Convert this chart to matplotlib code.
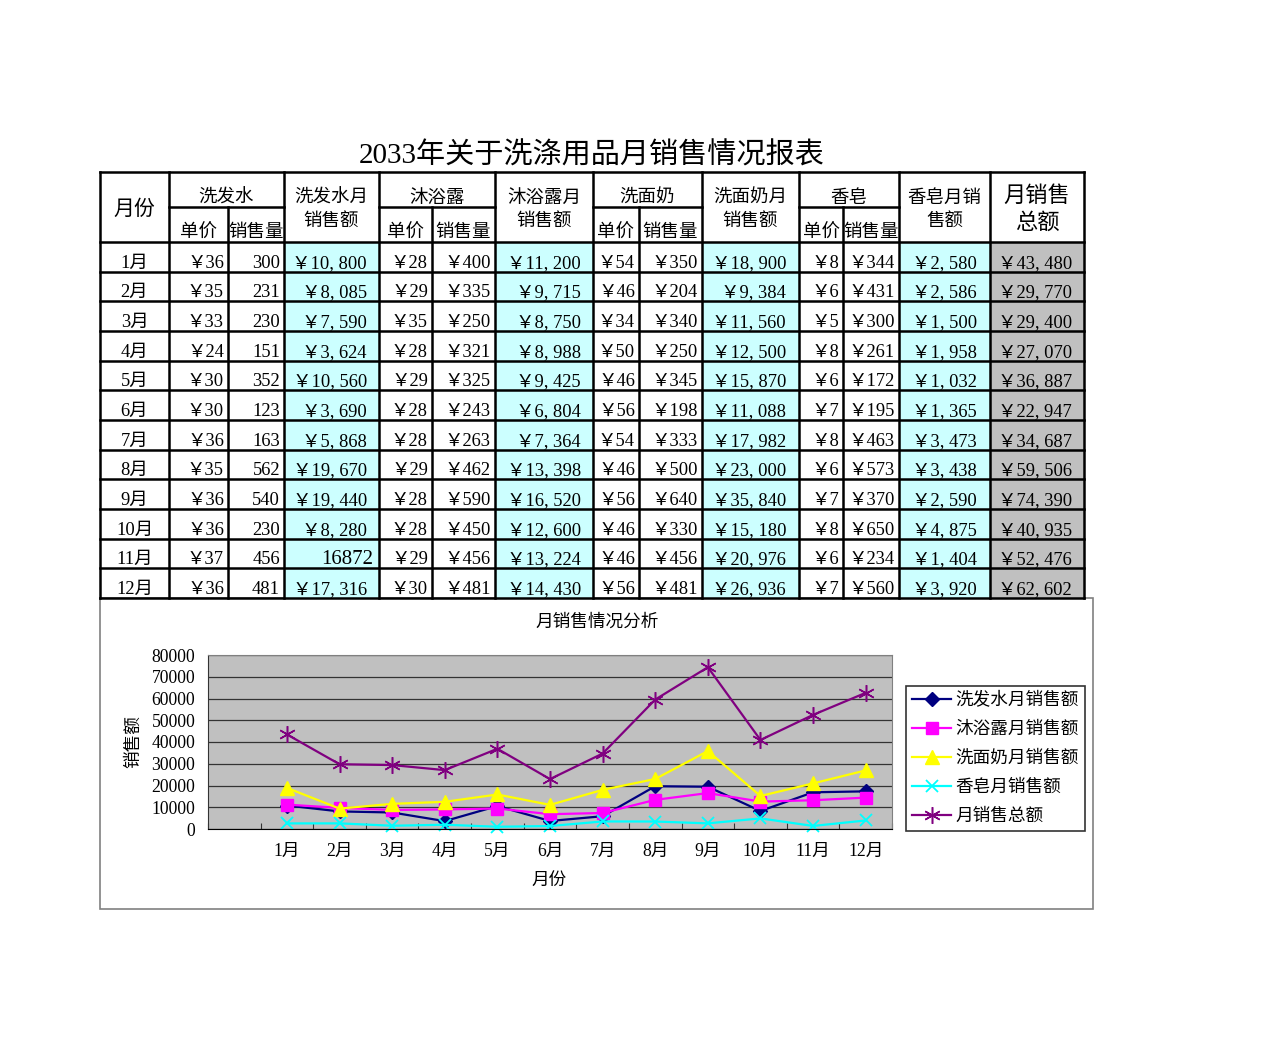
import numpy as np
import matplotlib
matplotlib.use("Agg")
import matplotlib.pyplot as plt
from matplotlib.patches import Rectangle

plt.rcParams['font.family'] = ['Liberation Serif', 'Noto Sans CJK SC']

# ---- data ----
months = ['1月', '2月', '3月', '4月', '5月', '6月', '7月', '8月', '9月', '10月', '11月', '12月']
shampoo_price = [36, 35, 33, 24, 30, 30, 36, 35, 36, 36, 37, 36]
shampoo_qty = [300, 231, 230, 151, 352, 123, 163, 562, 540, 230, 456, 481]
shampoo_sales = [10800, 8085, 7590, 3624, 10560, 3690, 5868, 19670, 19440, 8280, 16872, 17316]
gel_price = [28, 29, 35, 28, 29, 28, 28, 29, 28, 28, 29, 30]
gel_qty = [400, 335, 250, 321, 325, 243, 263, 462, 590, 450, 456, 481]
gel_sales = [11200, 9715, 8750, 8988, 9425, 6804, 7364, 13398, 16520, 12600, 13224, 14430]
cleanser_price = [54, 46, 34, 50, 46, 56, 54, 46, 56, 46, 46, 56]
cleanser_qty = [350, 204, 340, 250, 345, 198, 333, 500, 640, 330, 456, 481]
cleanser_sales = [18900, 9384, 11560, 12500, 15870, 11088, 17982, 23000, 35840, 15180, 20976, 26936]
soap_price = [8, 6, 5, 8, 6, 7, 8, 6, 7, 8, 6, 7]
soap_qty = [344, 431, 300, 261, 172, 195, 463, 573, 370, 650, 234, 560]
soap_sales = [2580, 2586, 1500, 1958, 1032, 1365, 3473, 3438, 2590, 4875, 1404, 3920]
total_sales = [43480, 29770, 29400, 27070, 36887, 22947, 34687, 59506, 74390, 40935, 52476, 62602]

title = '2033年关于洗涤用品月销售情况报表'
chart_title = '月销售情况分析'
series_names = ['洗发水月销售额', '沐浴露月销售额', '洗面奶月销售额', '香皂月销售额', '月销售总额']

W, H = 1280, 1058
fig = plt.figure(figsize=(W / 100, H / 100), dpi=100)
bg = fig.add_axes([0, 0, 1, 1])
bg.set_xlim(0, W)
bg.set_ylim(H, 0)
bg.axis('off')

FS = 13.3
CY = '#CCFFFF'
GR = '#C0C0C0'


def yen(v):
    return '￥' + format(v, ',').replace(',', ', ')


# ---- table geometry ----
xs = [100, 169, 228, 284, 379, 432, 495, 593, 639, 702, 799, 843, 899, 990, 1084]
top, mid, hb, bottom = 172, 207, 242, 598
rh = (bottom - hb) / 12
rows_y = [hb + i * rh for i in range(13)]

bg.text(592, 156, title, fontsize=21, ha='center', va='center')

# chart frame (behind table bottom line)
bg.add_patch(Rectangle((100, 598), 993, 311, facecolor='white', edgecolor='#808080', lw=1.2, zorder=0))

# fills
for c, col in [(3, CY), (6, CY), (9, CY), (12, CY), (13, GR)]:
    bg.add_patch(Rectangle((xs[c], hb), xs[c + 1] - xs[c], bottom - hb, facecolor=col, edgecolor='none', zorder=1))

lk = dict(color='black', lw=1.8, zorder=3, solid_capstyle='projecting')
for y in [top, hb] + rows_y[1:]:
    bg.plot([xs[0], xs[-1]], [y, y], **lk)
for g in [(1, 3), (4, 6), (7, 9), (10, 12)]:
    bg.plot([xs[g[0]], xs[g[1]]], [mid, mid], **lk)
for i, x in enumerate(xs):
    y0 = mid if i in (2, 5, 8, 11) else top
    bg.plot([x, x], [y0, bottom], **lk)

# header text
def ctext(x0, x1, y, s, fs=FS):
    bg.text((x0 + x1) / 2, y, s, fontsize=fs, ha='center', va='center', zorder=4)

ctext(xs[0], xs[1], 210, '月份', 15)
for i, name in zip([1, 4, 7, 10], ['洗发水', '沐浴露', '洗面奶', '香皂']):
    ctext(xs[i], xs[i + 2], 198, name)
    ctext(xs[i], xs[i + 1], 233, '单价')
    ctext(xs[i + 1], xs[i + 2], 233, '销售量')
for i, (a, b) in zip([3, 6, 9, 12], [('洗发水月', '销售额'), ('沐浴露月', '销售额'),
                                    ('洗面奶月', '销售额'), ('香皂月销', '售额')]):
    ctext(xs[i], xs[i + 1], 198, a)
    ctext(xs[i], xs[i + 1], 221, b)
ctext(xs[13], xs[14], 197, '月销售', 16)
ctext(xs[13], xs[14], 223, '总额', 16)

# body text
def rtext(col, r, s, pad, fs=FS):
    bg.text(xs[col + 1] - pad, rows_y[r + 1] - 4, s, fontsize=fs, ha='right', va='baseline', zorder=4)

for r in range(12):
    bg.text((xs[0] + xs[1]) / 2, rows_y[r + 1] - 4, months[r], fontsize=FS, ha='center', va='baseline', zorder=4)
    rtext(1, r, yen(shampoo_price[r]), 4)
    rtext(2, r, str(shampoo_qty[r]), 4)
    if r == 10:
        rtext(3, r, str(shampoo_sales[r]), 6, 15)
    else:
        rtext(3, r, yen(shampoo_sales[r]), 12)
    rtext(4, r, yen(gel_price[r]), 4)
    rtext(5, r, yen(gel_qty[r]), 4)
    rtext(6, r, yen(gel_sales[r]), 12)
    rtext(7, r, yen(cleanser_price[r]), 4)
    rtext(8, r, yen(cleanser_qty[r]), 4)
    rtext(9, r, yen(cleanser_sales[r]), 13)
    rtext(10, r, yen(soap_price[r]), 4)
    rtext(11, r, yen(soap_qty[r]), 4)
    rtext(12, r, yen(soap_sales[r]), 13)
    rtext(13, r, yen(total_sales[r]), 12)

# ---- chart ----
px0, px1, py0, py1 = 208, 892, 655, 829
ax = fig.add_axes([px0 / W, 1 - py1 / H, (px1 - px0) / W, (py1 - py0) / H])
ax.set_facecolor(GR)
x = np.arange(1, 13)
styles = [
    dict(color='#000080', marker='D', ms=7),
    dict(color='#FF00FF', marker='s', ms=9),
    dict(color='#FFFF00', marker='^', ms=10),
    dict(color='#00FFFF', marker='x', ms=8, mew=1.3),
    dict(color='#800080', marker=(6, 2, 0), ms=12, mew=1.1),
]
for vals, name, st in zip([shampoo_sales, gel_sales, cleanser_sales, soap_sales, total_sales], series_names, styles):
    ax.plot(x, vals, lw=1.6, label=name, clip_on=False, **st)

ax.set_xlim(-0.5, 12.5)
ax.set_ylim(0, 80000)
ax.set_yticks(range(0, 80001, 10000))
ax.yaxis.grid(True, color='#333333', lw=0.9)
ax.set_axisbelow(True)
ax.tick_params(axis='y', length=0, pad=9, labelsize=12.7)
ax.set_xticks(np.arange(-0.5, 13, 1))
ax.set_xticklabels([])
ax.set_xticks(x, months, minor=True)
ax.tick_params(axis='x', which='major', direction='in', length=4, color='#333333')
ax.tick_params(axis='x', which='minor', length=0, pad=10, labelsize=12.7)
for s in ['top', 'right']:
    ax.spines[s].set_color('#808080')
ax.spines['left'].set_color('#333333')
ax.spines['bottom'].set_color('black')

leg = ax.legend(loc='upper left', bbox_to_anchor=(906 / W, 1 - 686 / H), bbox_transform=fig.transFigure,
                borderaxespad=0, frameon=True, fancybox=False, edgecolor='black', fontsize=12.7,
                handlelength=2.2, handletextpad=0.25, labelspacing=0.68, borderpad=0.35)
leg.get_frame().set_linewidth(1.2)

bg.text(597, 622, chart_title, fontsize=12.7, ha='center', va='center')
bg.text(134, 742, '销售额', fontsize=12.7, ha='center', va='center', rotation=90)
bg.text(549, 880, '月份', fontsize=12.7, ha='center', va='center')

fig.savefig('out.png', dpi=100)
